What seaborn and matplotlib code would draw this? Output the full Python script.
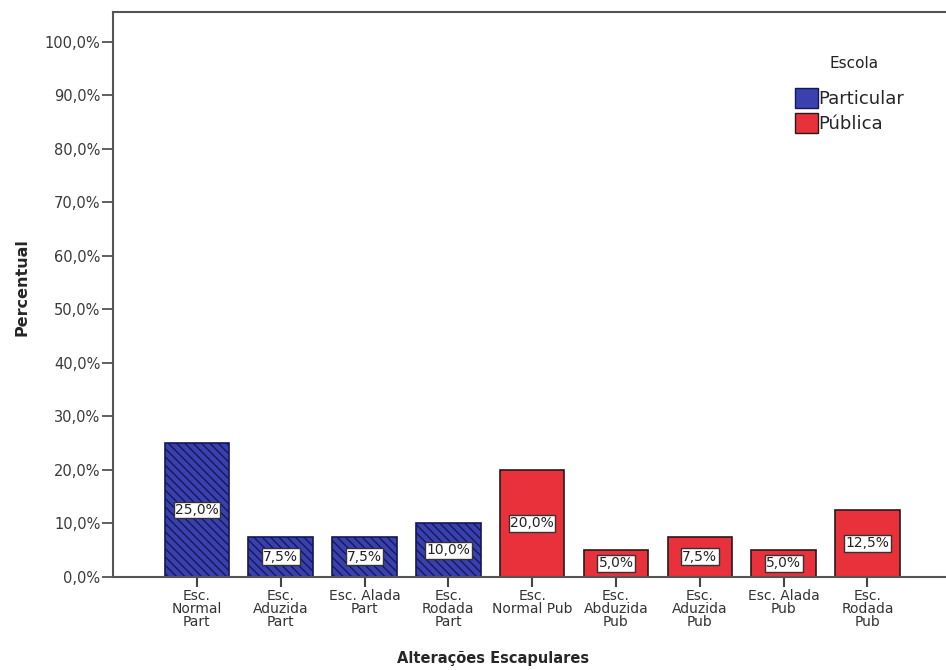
import matplotlib
matplotlib.use("Agg")
import matplotlib.pyplot as plt
from matplotlib.patches import Patch
from matplotlib.ticker import FuncFormatter, MultipleLocator
import seaborn as sns
import pandas as pd

# Scapular alterations by school type (percent of students)
categorias = [
    "Esc.\nNormal\nPart", "Esc.\nAduzida\nPart", "Esc. Alada\nPart", "Esc.\nRodada\nPart",
    "Esc.\nNormal Pub", "Esc.\nAbduzida\nPub", "Esc.\nAduzida\nPub", "Esc. Alada\nPub",
    "Esc.\nRodada\nPub",
]
percentuais = [25.0, 7.5, 7.5, 10.0, 20.0, 5.0, 7.5, 5.0, 12.5]
escola = ["Particular"] * 4 + ["Pública"] * 5
niveis = ["Particular", "Pública"]

cores = {"Particular": "#3a40ad", "Pública": "#e8313a"}
bordas = {"Particular": "#14185a", "Pública": "#2a1a1a"}

df = pd.DataFrame({"cat": categorias, "pct": percentuais, "escola": escola})

sns.set_style("white")
plt.rcParams["font.family"] = ["DejaVu Sans"]
plt.rcParams["hatch.linewidth"] = 1.0

fig = plt.figure(figsize=(9.46, 6.70), dpi=100)
ax = fig.add_axes([0.1195, 0.139, 0.879, 0.843])

sns.barplot(data=df, x="cat", y="pct", hue="escola", hue_order=niveis,
            palette=cores, dodge=False, width=0.77, legend=False, ax=ax,
            saturation=1)

fmt = lambda v: f"{v:.1f}%".replace(".", ",")
for nivel, cont in zip(niveis, ax.containers):
    for barra in cont:
        barra.set_edgecolor(bordas[nivel])
        barra.set_linewidth(1.2)
        if nivel == "Particular":
            barra.set_hatch("\\\\\\\\")
    ax.bar_label(cont, fmt=fmt, label_type="center", fontsize=10,
                 color="#222222",
                 bbox=dict(boxstyle="square,pad=0.1", facecolor="white",
                           edgecolor="#333333", linewidth=1.0))

ax.set_ylim(0, 105.6)
ax.set_xlim(-1.0, 8.92)
ax.yaxis.set_major_locator(MultipleLocator(10))
ax.yaxis.set_major_formatter(FuncFormatter(lambda v, p: f"{v:.1f}%".replace(".", ",")))

ax.tick_params(axis="y", which="major", direction="out", length=8, width=1.2,
               color="#444444", labelsize=10.5, labelcolor="#3a3a3a", left=True, pad=1)
ax.tick_params(axis="x", which="major", direction="out", length=7, width=1.5,
               color="#444444", labelsize=10, labelcolor="#333333", bottom=True, pad=2)
for lbl in ax.get_xticklabels():
    lbl.set_linespacing(0.9)

for lado in ["left", "bottom", "top"]:
    ax.spines[lado].set_visible(True)
    ax.spines[lado].set_color("#555555")
    ax.spines[lado].set_linewidth(1.5)
ax.spines["right"].set_visible(False)

ax.set_ylabel("Percentual", fontsize=11.5, fontweight="bold")
ax.yaxis.set_label_coords(-0.101, 0.513)
ax.set_xlabel("Alterações Escapulares", fontsize=10.5, fontweight="bold")
ax.xaxis.set_label_coords(0.457, -0.131)

# Legend: title drawn separately so it sits above the entries with some room
alcas = [Patch(facecolor=cores[n], edgecolor=bordas[n], linewidth=1.0) for n in niveis]
ax.legend(alcas, niveis, loc="upper left", bbox_to_anchor=(795 / 946, 1 - 88 / 670),
          bbox_transform=fig.transFigure, frameon=False, fontsize=13,
          handlelength=1.25, handleheight=1.3, handletextpad=0.05,
          labelspacing=0.3, borderpad=0, borderaxespad=0)
fig.text(854 / 946, 1 - 64 / 670, "Escola", fontsize=11, ha="center", va="center",
         color="#222222")

fig.savefig("out.png", dpi=100, facecolor="white")
